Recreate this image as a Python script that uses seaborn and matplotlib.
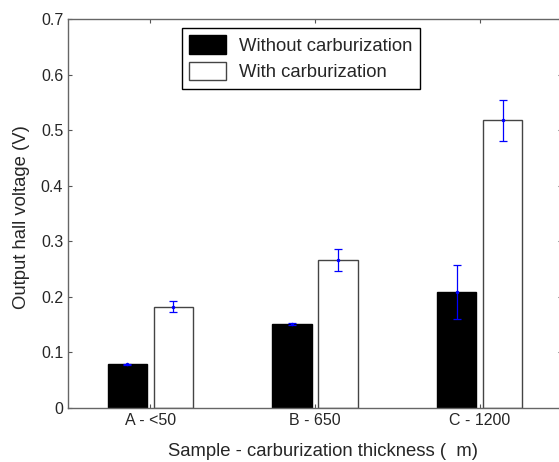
import seaborn as sns
import pandas as pd
import matplotlib.pyplot as plt
from matplotlib.patches import Patch

# values
samples = ["A - <50", "B - 650", "C - 1200"]
without_carb = [0.079, 0.151, 0.209]
without_err = [0.001, 0.002, 0.049]
with_carb = [0.182, 0.267, 0.518]
with_err = [0.010, 0.020, 0.037]
series = ["Without carburization", "With carburization"]

df = pd.DataFrame({
    "sample": samples * 2,
    "voltage": without_carb + with_carb,
    "series": [series[0]] * 3 + [series[1]] * 3,
})

sns.set_style("ticks")
plt.rcParams["font.family"] = ["Liberation Sans", "DejaVu Sans"]

fig = plt.figure(figsize=(5.59, 4.62), dpi=100)
ax = fig.add_axes([68 / 559, 1 - 408 / 462, (562 - 68) / 559, (408 - 19) / 462])

sns.barplot(data=df, x="sample", y="voltage", hue="series", hue_order=series,
            palette=["black", "white"], width=0.56, gap=0.15, errorbar=None,
            saturation=1, legend=False, ax=ax)

edges = ["black", "#444444"]
errs = [without_err, with_err]
bar_groups = list(ax.containers)
for i, cont in enumerate(bar_groups):
    xs = []
    ys = []
    for bar in cont:
        bar.set_edgecolor(edges[i])
        bar.set_linewidth(1.0)
        xs.append(bar.get_x() + bar.get_width() / 2)
        ys.append(bar.get_height())
    ax.errorbar(xs, ys, yerr=errs[i], fmt=".", color="blue", ms=3,
                elinewidth=0.9, capsize=3, capthick=0.9, zorder=5)

ax.set_xlim(-0.5, 2.5)
ax.set_ylim(0, 0.7)
ax.set_yticks([0, 0.1, 0.2, 0.3, 0.4, 0.5, 0.6, 0.7])
ax.set_yticklabels(["0", "0.1", "0.2", "0.3", "0.4", "0.5", "0.6", "0.7"])
ax.tick_params(direction="in", top=True, right=True, labelsize=11.5,
               length=3, width=0.8, color="#555555")
for s in ax.spines.values():
    s.set_visible(True)
    s.set_color("#666666")
    s.set_linewidth(1.0)

ax.set_xlabel("Sample - carburization thickness (  m)", fontsize=13.3, labelpad=11)
ax.xaxis.label.set_x(0.516)
ax.set_ylabel("Output hall voltage (V)", fontsize=13.3, labelpad=8)
ax.yaxis.label.set_y(0.49)

handles = [Patch(facecolor="black", edgecolor="black"),
           Patch(facecolor="white", edgecolor="#444444")]
leg = ax.legend(handles, series, loc="upper left",
                bbox_to_anchor=(182 / 559, 1 - 28 / 462),
                bbox_transform=fig.transFigure, borderaxespad=0,
                fontsize=13.3, fancybox=False, framealpha=1, edgecolor="black",
                handlelength=2.0, handleheight=1.15, labelspacing=0.38,
                handletextpad=0.7, borderpad=0.4)
leg.get_frame().set_linewidth(1.0)

fig.savefig("out.png", dpi=100)
